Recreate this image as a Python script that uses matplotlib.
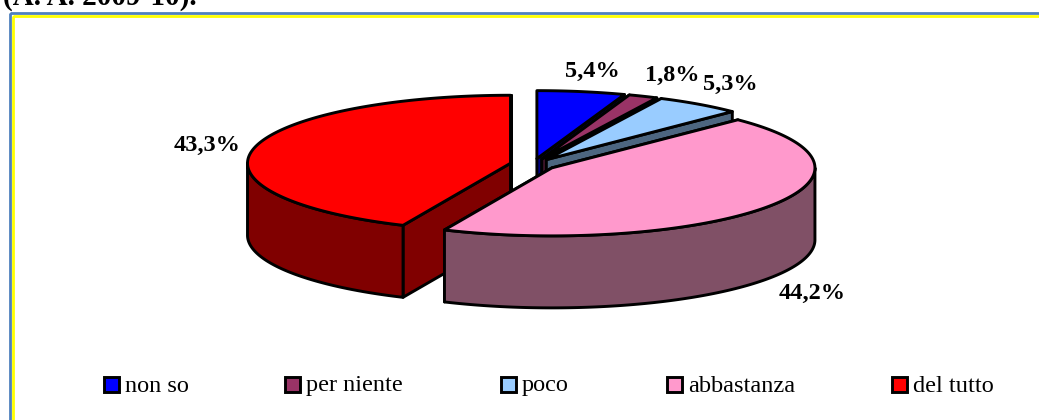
import numpy as np
import matplotlib
matplotlib.use("Agg")
import matplotlib.pyplot as plt
from matplotlib.patches import Polygon, Rectangle

plt.rcParams['font.family'] = ['Liberation Serif', 'DejaVu Sans']

# Slices clockwise from 12 o'clock
categories = ["non so", "per niente", "poco", "abbastanza", "del tutto"]
values = [5.4, 1.8, 5.3, 44.2, 43.3]
value_labels = ["5,4%", "1,8%", "5,3%", "44,2%", "43,3%"]
top_colors = ["#0000FF", "#993366", "#99CCFF", "#FF99CC", "#FF0000"]
side_colors = ["#000080", "#4D1A33", "#4D6680", "#805066", "#800000"]

# Everything in picture pixels
W, H = 1039, 420
CX, CY = 533, 164.5
RX, RY = 263, 68
DEPTH = 72
EXPLODE = 23
TILT = RY / RX
LABEL_POS = [(592, 71), (672, 75), (730, 84), (812, 293), (207, 145)]
LEGEND_X = [104, 285, 501, 667, 892]
LEGEND_Y = 386
DRAW_ORDER = [0, 1, 2, 4, 3]


def rim(ox, oy, a0, a1):
    t = np.radians(np.linspace(a0, a1, max(2, int(abs(a1 - a0)) * 2)))
    return np.column_stack([ox + RX * np.sin(t), oy - RY * np.cos(t)])


def draw_slice(ax, a0, a1, top, side):
    mid = np.radians((a0 + a1) / 2)
    ox = CX + EXPLODE * np.sin(mid)
    oy = CY - EXPLODE * TILT * np.cos(mid)
    kw = dict(edgecolor="black", linewidth=2.1, joinstyle="round")

    # the two cut faces, back one first
    cuts = []
    for a in (a0, a1):
        p = rim(ox, oy, a, a)[0]
        cuts.append([(ox, oy), p, (p[0], p[1] + DEPTH), (ox, oy + DEPTH)])
    cuts.sort(key=lambda c: c[1][1])
    for c in cuts:
        ax.add_patch(Polygon(c, facecolor=side, **kw))

    # outer wall, front half of the ellipse only
    w0, w1 = max(a0, 90), min(a1, 270)
    if w1 > w0:
        edge = rim(ox, oy, w0, w1)
        low = edge[::-1] + [0, DEPTH]
        ax.add_patch(Polygon(np.vstack([edge, low]), facecolor=side, **kw))

    ax.add_patch(Polygon(np.vstack([[(ox, oy)], rim(ox, oy, a0, a1)]), facecolor=top, **kw))


fig = plt.figure(figsize=(W / 100, H / 100), dpi=100)
ax = fig.add_axes([0, 0, 1, 1])
ax.set_xlim(0, W)
ax.set_ylim(H, 0)
ax.axis("off")

# frame: blue outside, yellow inside
ax.add_patch(Rectangle((10, 13), W + 20, H + 20, fill=False, edgecolor="#4F81BD", linewidth=2.0))
ax.add_patch(Rectangle((13, 16), W + 20, H + 20, fill=False, edgecolor="#FFFF00", linewidth=2.0))

ax.text(3, 5, "(A. A. 2009-10).", fontsize=21, fontweight="bold", ha="left", va="baseline")

edges = np.concatenate([[0], np.cumsum(values)]) / np.sum(values) * 360
for i in DRAW_ORDER:
    draw_slice(ax, edges[i], edges[i + 1], top_colors[i], side_colors[i])

for lab, (x, y) in zip(value_labels, LABEL_POS):
    ax.text(x, y, lab, fontsize=17.5, fontweight="bold", ha="center", va="center")

for name, col, x in zip(categories, top_colors, LEGEND_X):
    ax.add_patch(Rectangle((x, LEGEND_Y - 9), 15, 15, facecolor=col, edgecolor="black", linewidth=2.1))
    ax.text(x + 21, LEGEND_Y, name, fontsize=17.5, ha="left", va="center")

fig.savefig("out.png", dpi=100)
